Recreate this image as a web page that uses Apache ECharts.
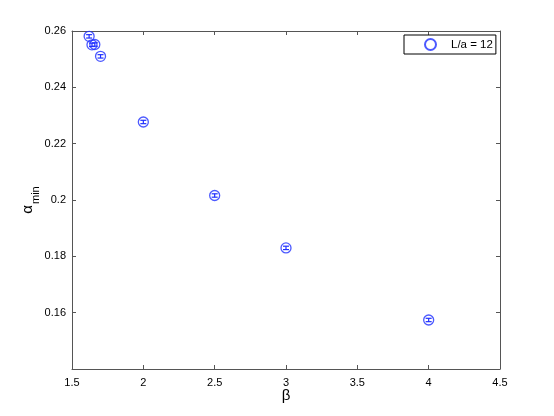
<!DOCTYPE html>
<html><head><meta charset="utf-8">
<script src="https://cdn.jsdelivr.net/npm/echarts@6/dist/echarts.min.js"></script>
<style>html,body{margin:0;padding:0;background:#fff}#c{width:554px;height:416px}</style>
</head><body><div id="c"></div>
<script>
const betas = [1.62, 1.64, 1.66, 1.70, 2.0, 2.5, 3.0, 4.0];
const alphas = [0.2581, 0.2551, 0.2552, 0.2510, 0.2277, 0.2016, 0.1830, 0.1574];
const errors = [0.0006, 0.0006, 0.0006, 0.0006, 0.0006, 0.0006, 0.0006, 0.0006];
const seriesName = 'L/a = 12';
const xTicks = [1.5, 2, 2.5, 3, 3.5, 4, 4.5];
const yTicks = [0.14, 0.16, 0.18, 0.2, 0.22, 0.24, 0.26];

const blue = '#1f2fff';
const axisColor = '#555';
const font = 'Liberation Sans, Arial, sans-serif';
const points = betas.map((b, i) => [b, alphas[i]]);
const errData = betas.map((b, i) => [b, alphas[i] - errors[i], alphas[i] + errors[i]]);

const axisCommon = {
  axisLine: {lineStyle: {color: axisColor, width: 1}},
  axisTick: {inside: true, length: 4, lineStyle: {color: axisColor}},
  splitLine: {show: false}
};
const chart = echarts.init(document.getElementById('c'));
chart.setOption({
  animation: false,
  grid: {left: 72, right: 54, top: 31, bottom: 47, show: false, containLabel: false, outerBoundsMode: 'none'},
  legend: {
    data: [{name: seriesName, icon: 'circle'}],
    left: 404, top: 35, width: 92,
    borderColor: '#000', borderWidth: 1, borderRadius: 0,
    padding: [3, 3, 3, 20],
    itemWidth: 11, itemHeight: 11, itemGap: 10,
    textStyle: {fontFamily: font, fontSize: 11.5, color: '#000', padding: [0, 0, 0, 10]}
  },
  xAxis: [
    Object.assign({type: 'value', min: 1.5, max: 4.5, interval: 0.5, position: 'bottom',
      name: 'β', nameLocation: 'middle', nameGap: 19, nameMoveOverlap: false,
      nameTextStyle: {fontFamily: font, fontSize: 15, color: '#000', verticalAlign: 'top'},
      axisLabel: {fontFamily: font, fontSize: 11, color: '#000', margin: 8,
        formatter: v => xTicks.includes(+v.toFixed(2)) ? String(+v.toFixed(2)) : ''}}, axisCommon),
    Object.assign({type: 'value', min: 1.5, max: 4.5, interval: 0.5, position: 'top',
      axisLabel: {show: false}}, axisCommon)
  ],
  yAxis: [
    Object.assign({type: 'value', min: 0.14, max: 0.26, interval: 0.02, position: 'left',
      name: '{a|α}{s|min}', nameLocation: 'middle', nameGap: 36, nameRotate: 90, nameMoveOverlap: false,
      nameTextStyle: {rich: {
        a: {fontFamily: font, fontSize: 15, color: '#000', verticalAlign: 'top', lineHeight: 16},
        s: {fontFamily: font, fontSize: 11, color: '#000', lineHeight: 12, padding: [16, 0, 0, 1]}
      }},
      axisLabel: {fontFamily: font, fontSize: 11, color: '#000', margin: 6,
        formatter: v => { const r = +v.toFixed(2); return (r > 0.141 && yTicks.includes(r)) ? String(r) : ''; }}}, axisCommon),
    Object.assign({type: 'value', min: 0.14, max: 0.26, interval: 0.02, position: 'right',
      axisLabel: {show: false}}, axisCommon)
  ],
  series: [
    {
      type: 'custom', name: 'err', xAxisIndex: 0, yAxisIndex: 0,
      data: errData, silent: true, z: 3,
      renderItem: function (params, api) {
        const x = api.value(0);
        const lo = api.coord([x, api.value(1)]);
        const hi = api.coord([x, api.value(2)]);
        const w = 3;
        const st = {stroke: blue, lineWidth: 1.2};
        return {type: 'group', children: [
          {type: 'line', shape: {x1: lo[0], y1: lo[1], x2: hi[0], y2: hi[1]}, style: st},
          {type: 'line', shape: {x1: lo[0] - w, y1: lo[1], x2: lo[0] + w, y2: lo[1]}, style: st},
          {type: 'line', shape: {x1: hi[0] - w, y1: hi[1], x2: hi[0] + w, y2: hi[1]}, style: st}
        ]};
      }
    },
    {
      type: 'scatter', name: seriesName, xAxisIndex: 0, yAxisIndex: 0,
      data: points, symbol: 'circle', symbolSize: 10, z: 4,
      itemStyle: {color: 'rgba(255,255,255,0)', borderColor: blue, borderWidth: 1.3}
    }
  ]
});
</script></body></html>
